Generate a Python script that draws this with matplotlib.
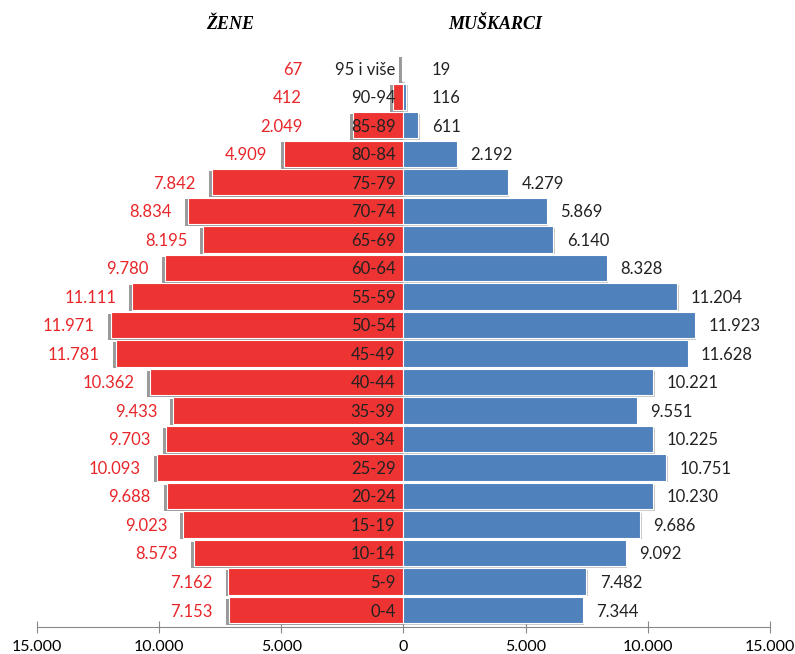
import numpy as np
import matplotlib
matplotlib.use('Agg')
import matplotlib.pyplot as plt

plt.rcParams['font.family'] = ['Lato', 'DejaVu Sans']

# age groups, bottom to top
ages = ['0-4', '5-9', '10-14', '15-19', '20-24', '25-29', '30-34', '35-39', '40-44', '45-49',
        '50-54', '55-59', '60-64', '65-69', '70-74', '75-79', '80-84', '85-89', '90-94', '95 i više']
zene = [7153, 7162, 8573, 9023, 9688, 10093, 9703, 9433, 10362, 11781,
        11971, 11111, 9780, 8195, 8834, 7842, 4909, 2049, 412, 67]
muskarci = [7344, 7482, 9092, 9686, 10230, 10751, 10225, 9551, 10221, 11628,
            11923, 11204, 8328, 6140, 5869, 4279, 2192, 611, 116, 19]
xticks = [-15000, -10000, -5000, 0, 5000, 10000, 15000]


def fmt(v):
    return '{:,}'.format(abs(int(v))).replace(',', '.')


fig = plt.figure(figsize=(7.95, 6.54), dpi=100)
ax = fig.add_axes([0.0465, 0.041, 0.922, 0.882])

y = np.arange(len(ages))
red = '#EE3333'
blue = '#4F81BD'

# shadow behind bars
ax.barh(y - 0.06, [-v - 120 for v in zene], height=0.92, color='#9a9a9a', zorder=1)
ax.barh(y - 0.06, [v + 60 for v in muskarci], height=0.92, color='#c8c8c8', zorder=1)
ax.barh(y, [-v for v in zene], height=0.92, color=red, edgecolor='white', linewidth=0.8, zorder=2)
ax.barh(y, muskarci, height=0.92, color=blue, edgecolor='white', linewidth=0.8, zorder=2)

for i in range(len(ages)):
    ax.text(-330, y[i] - 0.05, ages[i], ha='right', va='center', fontsize=12, color='#222222', zorder=3)
    xz = -max(zene[i], 3500) - 650
    ax.text(xz, y[i] - 0.05, fmt(zene[i]), ha='right', va='center', fontsize=12, color='#E8262A', zorder=3)
    xm = max(muskarci[i], 600) + 550
    ax.text(xm, y[i] - 0.05, fmt(muskarci[i]), ha='left', va='center', fontsize=12, color='#222222', zorder=3)

ax.set_xlim(-15000, 15000)
ax.set_ylim(-0.6, 19.63)
ax.set_xticks(xticks)
ax.set_xticklabels([fmt(t) for t in xticks], fontsize=11.5)
ax.set_yticks([])
for s in ['top', 'left', 'right']:
    ax.spines[s].set_visible(False)
ax.spines['bottom'].set_color('#888888')
ax.tick_params(axis='x', direction='inout', length=8, color='#888888', pad=5)

fig.text(0.289, 0.963, 'ŽENE', family='Liberation Serif', fontweight='bold', style='italic',
         fontsize=13, ha='center', va='center')
fig.text(0.623, 0.963, 'MUŠKARCI', family='Liberation Serif', fontweight='bold', style='italic',
         fontsize=13, ha='center', va='center')

plt.savefig('out.png', dpi=100)
